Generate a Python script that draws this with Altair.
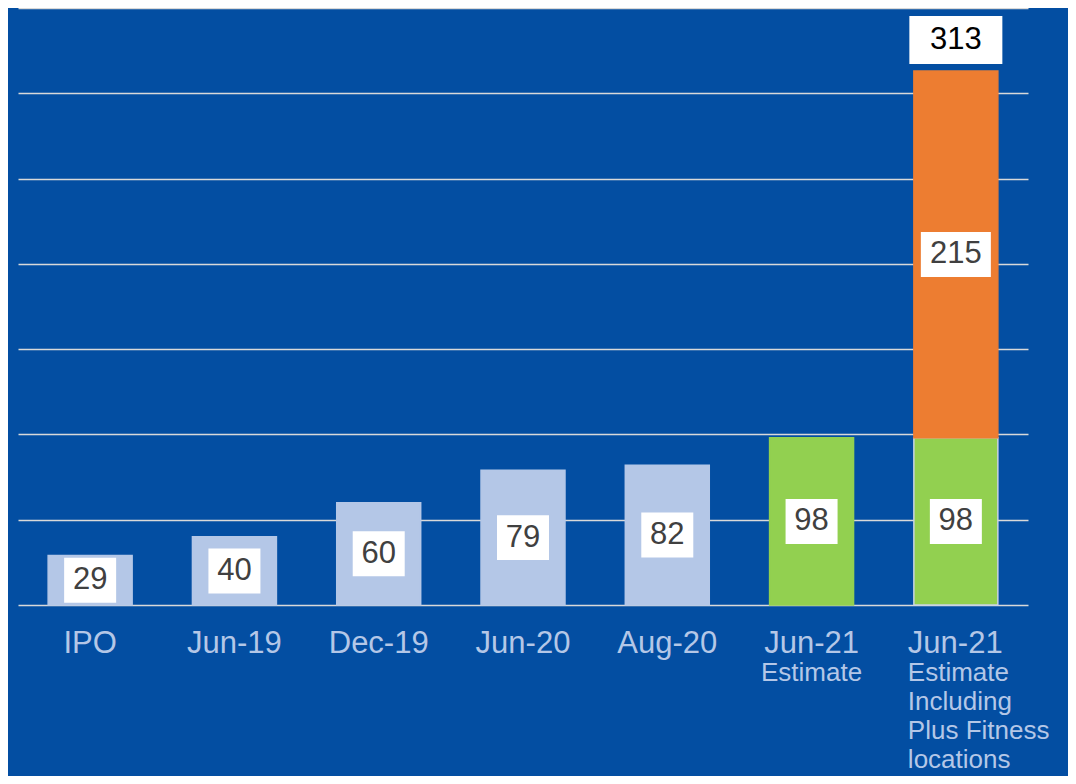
import altair as alt
import pandas as pd

# ---- data ----
keys = ["IPO", "Jun-19", "Dec-19", "Jun-20", "Aug-20", "Jun-21 Est", "Jun-21 Est Plus"]
main_labels = ["IPO", "Jun-19", "Dec-19", "Jun-20", "Aug-20", "Jun-21", "Jun-21"]
sub_labels = [[], [], [], [], [], ["Estimate"], ["Estimate", "Including", "Plus Fitness", "locations"]]
base_values = [29, 40, 60, 79, 82, 98, 98]
plus_values = [0, 0, 0, 0, 0, 0, 215]
base_colors = ["#B4C7E7", "#B4C7E7", "#B4C7E7", "#B4C7E7", "#B4C7E7", "#92D050", "#92D050"]
plus_color = "#ED7D31"
total_label = 313

BG = "#034EA2"
AXIS_TXT = "#B4C7E7"
FONT = "Liberation Sans"

# segments
seg_rows = []
for i, k in enumerate(keys):
    outlined = plus_values[i] > 0
    seg_rows.append(dict(key=k, start=0, end=base_values[i], fill=base_colors[i],
                         stroke="#C9D3E4" if outlined else base_colors[i],
                         mid=base_values[i] / 2, label=str(base_values[i])))
    if plus_values[i] > 0:
        s = base_values[i]
        e = base_values[i] + plus_values[i]
        seg_rows.append(dict(key=k, start=s, end=e, fill=plus_color, stroke=plus_color,
                             mid=(s + e) / 2, label=str(plus_values[i])))
seg = pd.DataFrame(seg_rows)
seg["digits"] = seg["label"].str.len()

tot = pd.DataFrame([dict(key=keys[-1], value=total_label, label=str(total_label))])

lab = pd.DataFrame([dict(key=k, main=m, idx=i) for i, (k, m) in enumerate(zip(keys, main_labels))])
sub_rows = []
for i, (k, lines) in enumerate(zip(keys, sub_labels)):
    for j, t in enumerate(lines):
        sub_rows.append(dict(key=k, text=t, line=j, idx=i))
sub = pd.DataFrame(sub_rows)

xenc = alt.X("key:N", sort=keys, axis=None,
             scale=alt.Scale(paddingInner=0.418, paddingOuter=0.209))
yscale = alt.Scale(domain=[0, 350], nice=False, zero=True)

bars = alt.Chart(seg).mark_bar(strokeWidth=1.5).encode(
    x=xenc,
    y=alt.Y("start:Q", scale=yscale,
            axis=alt.Axis(values=[0, 50, 100, 150, 200, 250, 300, 350], grid=True,
                          gridColor="#D9D9D9", gridWidth=1.6, labels=False, ticks=False,
                          domain=False, title=None)),
    y2="end:Q",
    color=alt.Color("fill:N", scale=None),
    stroke=alt.Stroke("stroke:N", scale=None),
)

box2 = alt.Chart(seg).transform_filter("datum.digits == 2").mark_point(
    shape="M-1,-0.865L1,-0.865L1,0.865L-1,0.865Z", size=52 * 52, filled=True,
    fill="white", opacity=1, strokeWidth=0).encode(x=xenc, y=alt.Y("mid:Q", scale=yscale))
box3 = alt.Chart(seg).transform_filter("datum.digits == 3").mark_point(
    shape="M-1,-0.643L1,-0.643L1,0.643L-1,0.643Z", size=70 * 70, filled=True,
    fill="white", opacity=1, strokeWidth=0).encode(x=xenc, y=alt.Y("mid:Q", scale=yscale))
vals = alt.Chart(seg).mark_text(font=FONT, fontSize=31, color="#404040", baseline="middle").encode(
    x=xenc, y=alt.Y("mid:Q", scale=yscale), text="label:N")

totbox = alt.Chart(tot).mark_point(
    shape="M-1,-0.516L1,-0.516L1,0.516L-1,0.516Z", size=93 * 93, filled=True,
    fill="white", opacity=1, strokeWidth=0, yOffset=-31).encode(
    x=xenc, y=alt.Y("value:Q", scale=yscale))
tottxt = alt.Chart(tot).mark_text(font=FONT, fontSize=31, color="#000000", baseline="middle",
                                  yOffset=-31).encode(
    x=xenc, y=alt.Y("value:Q", scale=yscale), text="label:N")

main_c = alt.Chart(lab).transform_filter("datum.idx < 6").mark_text(
    font=FONT, fontSize=31, color=AXIS_TXT, baseline="alphabetic", align="center").encode(
    x=xenc, y=alt.value(645), text="main:N")
main_l = alt.Chart(lab).transform_filter("datum.idx == 6").mark_text(
    font=FONT, fontSize=31, color=AXIS_TXT, baseline="alphabetic", align="left", dx=-48).encode(
    x=xenc, y=alt.value(645), text="main:N")

sub_layers = []
for j in range(4):
    sub_layers.append(alt.Chart(sub).transform_filter(f"datum.line == {j} && datum.idx < 6").mark_text(
        font=FONT, fontSize=26, color=AXIS_TXT, baseline="alphabetic", align="center").encode(
        x=xenc, y=alt.value(673 + 29 * j), text="text:N"))
    sub_layers.append(alt.Chart(sub).transform_filter(f"datum.line == {j} && datum.idx == 6").mark_text(
        font=FONT, fontSize=26, color=AXIS_TXT, baseline="alphabetic", align="left", dx=-48).encode(
        x=xenc, y=alt.value(673 + 29 * j), text="text:N"))

chart = alt.layer(bars, box2, box3, vals, totbox, tottxt, main_c, main_l, *sub_layers).properties(
    width=1010, height=597,
    padding={"left": 10, "top": 0, "right": 40, "bottom": 171},
    autosize=alt.AutoSizeParams(type="none"),
    background=BG,
).configure_view(fill=BG, stroke=None)

chart.save("out.html", embed_options={"renderer": "svg", "actions": False})
